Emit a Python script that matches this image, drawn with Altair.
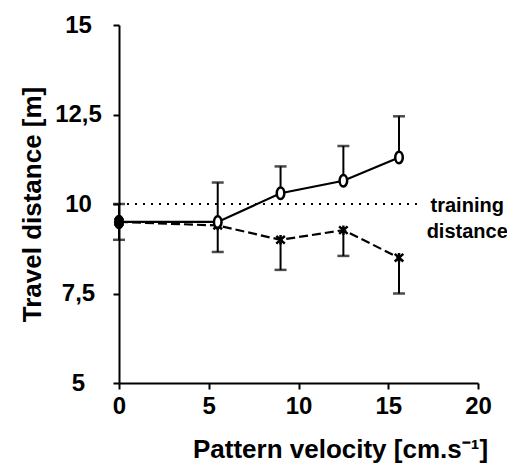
import altair as alt
import pandas as pd

# Data
velocity = [0, 5.5, 9.0, 12.5, 15.6]
dist_circle = [9.5, 9.5, 10.3, 10.65, 11.3]
err_circle_hi = [10.0, 10.6, 11.05, 11.62, 12.45]
dist_cross = [9.5, 9.4, 9.0, 9.27, 8.5]
err_cross_lo = [9.0, 8.66, 8.16, 8.55, 7.5]
training_distance = 10
training_x = [0, 16.6]
label_text = ["training", "distance"]
x_ticks = [0, 5, 10, 15, 20]
y_ticks = [5, 7.5, 10, 12.5, 15]

circ = pd.DataFrame({"v": velocity, "d": dist_circle, "e": err_circle_hi})
cros = pd.DataFrame({"v": velocity, "d": dist_cross, "e": err_cross_lo})
train = pd.DataFrame({"v": training_x, "d": [training_distance] * 2})
lab = pd.DataFrame({"v": [19.4], "d": [training_distance - 0.05], "t": [label_text]})

FONT = "Liberation Sans"
xs = alt.Scale(domain=[0, 20], nice=False, zero=False)
ys = alt.Scale(domain=[5, 15], nice=False, zero=False)

X = alt.X("v:Q", scale=xs, axis=alt.Axis(
    values=x_ticks, title="Pattern velocity [cm.s⁻¹]", grid=False, format="~g",
    titleX=221, titleAlign="center", titlePadding=18, labelPadding=5,
))
Y = alt.Y("d:Q", scale=ys, axis=alt.Axis(
    values=y_ticks, title="Travel distance [m]", grid=False, format=".1~f",
    labelExpr="replace(datum.label, '.', ',')", labelAlign="center",
    labelPadding=35, titlePadding=9,
))

ELLIPSE = "M0,-1.1A0.72,1.1 0 1,1 0,1.1A0.72,1.1 0 1,1 0,-1.1Z"
STAR = "M-0.9,-0.8L0.9,0.8M-0.9,0.8L0.9,-0.8M0,-1L0,1"

base_c = alt.Chart(circ)
base_x = alt.Chart(cros)

train_line = alt.Chart(train).mark_line(color="black", strokeWidth=2, strokeDash=[2, 6]).encode(x=X, y=Y)

err_c = base_c.mark_rule(color="black", strokeWidth=2).encode(x=X, y=Y, y2="e:Q")
cap_c = base_c.mark_tick(orient="horizontal", color="black", size=12, thickness=2.5).encode(x=X, y=alt.Y("e:Q", scale=ys))
err_x = base_x.mark_rule(color="black", strokeWidth=2).encode(x=X, y=Y, y2="e:Q")
cap_x = base_x.mark_tick(orient="horizontal", color="black", size=12, thickness=2.5).encode(x=X, y=alt.Y("e:Q", scale=ys))

line_c = base_c.mark_line(color="black", strokeWidth=2.2).encode(x=X, y=Y)
line_x = base_x.mark_line(color="black", strokeWidth=2.2, strokeDash=[9, 4]).encode(x=X, y=Y)

pts_x = base_x.mark_point(shape=STAR, size=90, stroke="black", strokeWidth=2.5, opacity=1).encode(x=X, y=Y)
pts_c = base_c.transform_filter("datum.v > 0").mark_point(
    shape=ELLIPSE, size=110, fill="white", fillOpacity=1, stroke="black", strokeWidth=2.5, opacity=1
).encode(x=X, y=Y)
pt0 = base_c.transform_filter("datum.v == 0").mark_point(
    shape=ELLIPSE, size=130, fill="black", fillOpacity=1, stroke="black", strokeWidth=2, opacity=1
).encode(x=X, y=Y)

text = alt.Chart(lab).mark_text(
    font=FONT, fontSize=20, fontWeight="bold", align="center", baseline="middle",
    lineHeight=26, color="black"
).encode(x=X, y=Y, text="t")

chart = alt.layer(
    train_line, err_c, cap_c, err_x, cap_x, line_c, line_x, pts_x, pts_c, pt0, text
).properties(
    width=359, height=358,
    autosize=alt.AutoSizeParams(type="none"),
    padding={"left": 111, "top": 17, "right": 29, "bottom": 80},
).configure_view(stroke=None).configure_axis(
    domainColor="black", domainWidth=2, tickColor="black", tickWidth=2, tickSize=6,
    labelFont=FONT, labelFontSize=24, labelFontWeight="bold", labelColor="black",
    titleFont=FONT, titleFontSize=26, titleFontWeight="bold", titleColor="black",
    labelFlush=False,
)

chart.save("out.html", embed_options={"renderer": "svg", "actions": False})
